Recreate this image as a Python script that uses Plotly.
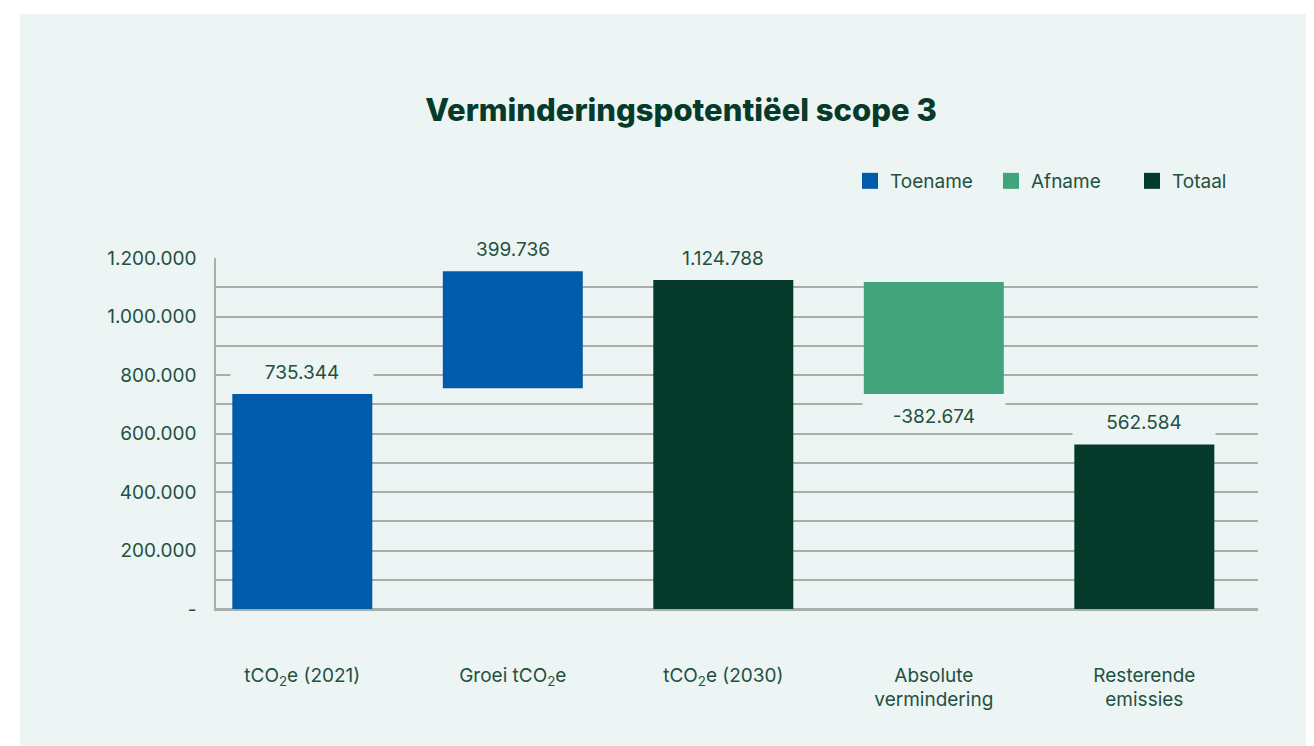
import plotly.graph_objects as go

# ---- data ----
categories = ["tCO<sub>2</sub>e (2021)", "Groei tCO<sub>2</sub>e", "tCO<sub>2</sub>e (2030)",
              "Absolute<br>vermindering", "Resterende<br>emissies"]
values = [735344, 399736, 1124788, -382674, 562584]
bases = [0, 755000, 0, 1118018, 0]
kinds = ["Toename", "Toename", "Totaal", "Afname", "Totaal"]
legend_order = ["Toename", "Afname", "Totaal"]
y_tick_values = [0, 200000, 400000, 600000, 800000, 1000000, 1200000]
y_tick_labels = ["-", "200.000", "400.000", "600.000", "800.000", "1.000.000", "1.200.000"]

colors = {"Toename": "#005BAA", "Afname": "#42A47D", "Totaal": "#05392A"}
panel = "#ECF5F3"
grid = "#A9AEAD"
text_col = "#24503F"
FONT = "Inter"

# page has an 8px body margin: figure occupies (8..1314, 8..746)
W, H = 1306, 738
L, R, T, B = 208, 56, 250, 137
PW, PH = W - L - R, H - T - B

fig = go.Figure()

for k in legend_order:
    idx = [i for i, kk in enumerate(kinds) if kk == k]
    fig.add_trace(go.Bar(
        x=[categories[i] for i in idx],
        y=[values[i] for i in idx],
        base=[bases[i] for i in idx],
        marker=dict(color=colors[k], line=dict(width=0)),
        width=0.665,
        showlegend=False,
        name=k,
        hoverinfo="skip",
    ))

# legend entries
for k in legend_order:
    fig.add_trace(go.Scatter(
        x=[None], y=[None], mode="markers", name=k,
        marker=dict(symbol="square", size=19, color=colors[k]),
        showlegend=True,
    ))

# value labels with masking background
for i, (c, v, b) in enumerate(zip(categories, values, bases)):
    label = f"{v:,}".replace(",", ".")
    pos = v >= 0
    fig.add_annotation(x=c, y=b + v, text=label, showarrow=False,
                       yanchor="bottom" if pos else "top", yshift=7 if pos else -7,
                       width=140, height=26, bgcolor=panel,
                       font=dict(family=FONT, size=19, color=text_col))

# panel background
fig.add_shape(type="rect", xref="paper", yref="paper",
              x0=(12 - L) / PW, x1=(W + 10 - L) / PW,
              y0=-(B + 10) / PH, y1=(T - 6 + PH) / PH,
              fillcolor=panel, line=dict(width=0), layer="below")

fig.update_layout(
    width=W, height=H,
    margin=dict(l=L, r=R, t=T, b=B),
    paper_bgcolor="white",
    plot_bgcolor="rgba(0,0,0,0)",
    barmode="overlay",
    title=dict(text="Verminderingspotentiëel scope 3",
               x=(681 - 8) / W, y=1 - (110 - 8) / H, xref="container", yref="container",
               xanchor="center", yanchor="middle",
               font=dict(family=FONT, size=31, color="#063A2B", weight=800)),
    legend=dict(orientation="h", x=1.0 + 15 / PW, xanchor="right",
                y=(601 - 173) / PH, yanchor="middle",
                font=dict(family=FONT, size=19, color=text_col),
                entrywidth=96,
                bgcolor="rgba(0,0,0,0)", itemsizing="trace", traceorder="normal"),
    font=dict(family=FONT, color=text_col),
)

fig.update_xaxes(
    type="category", categoryorder="array", categoryarray=categories,
    range=[-0.41, 4.54],
    showgrid=False, showline=True, linecolor=grid, linewidth=1.5,
    ticks="", ticklabelstandoff=48,
    tickfont=dict(family=FONT, size=19, color=text_col),
)
fig.update_yaxes(
    range=[0, 1200000],
    tickvals=y_tick_values, ticktext=y_tick_labels,
    showgrid=True, gridcolor=grid, gridwidth=1.5,
    minor=dict(dtick=100000, showgrid=True, gridcolor=grid, gridwidth=1.5),
    zeroline=True, zerolinecolor=grid, zerolinewidth=1.5,
    showline=True, linecolor=grid, linewidth=1.5,
    ticks="", ticklabelstandoff=14,
    tickfont=dict(family=FONT, size=19, color=text_col),
)

fig.write_html("out.html")
